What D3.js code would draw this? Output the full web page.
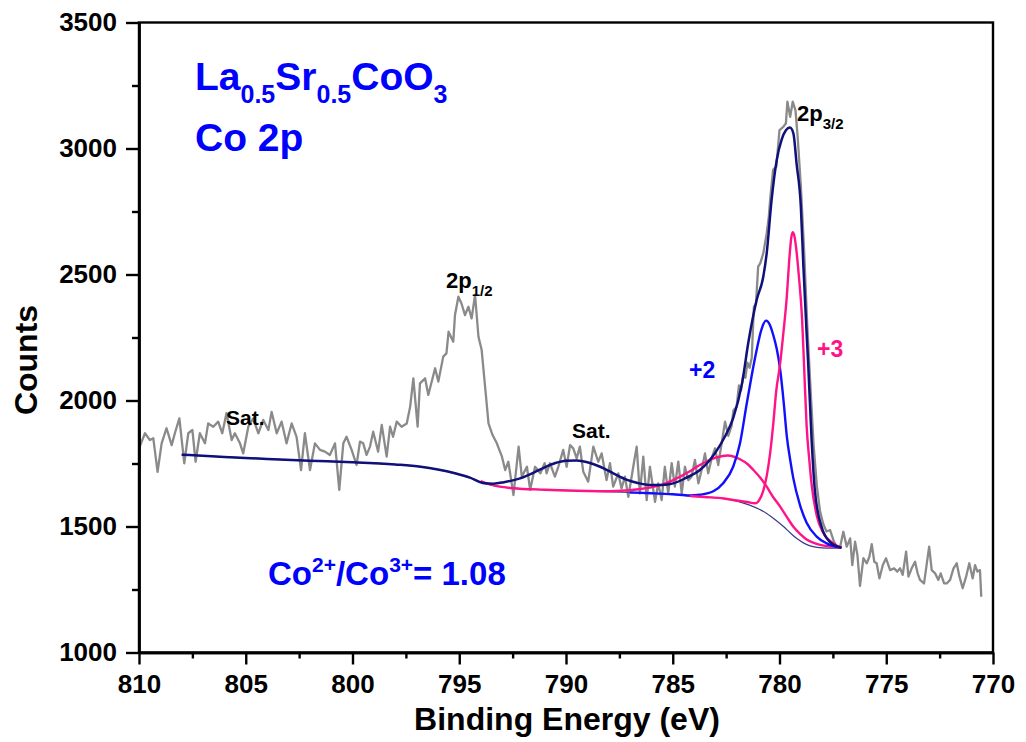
<!DOCTYPE html>
<html><head><meta charset="utf-8">
<script src="https://cdn.jsdelivr.net/npm/d3@7"></script>
<style>body{margin:0;background:#fff}svg{display:block}</style>
</head><body>
<svg id="chart" width="1026" height="742"></svg>
<script>
// ---------- data ----------
const xTickValues = [810, 805, 800, 795, 790, 785, 780, 775, 770];
const xMinorTicks = [807.5, 802.5, 797.5, 792.5, 787.5, 782.5, 777.5, 772.5];
const yTickValues = [1000, 1500, 2000, 2500, 3000, 3500];
const yMinorTicks = [1250, 1750, 2250, 2750, 3250];

// measured spectrum [binding energy (eV), counts]
const rawSpectrum = [
[810.0,1810],[809.72,1870],[809.49,1843],[809.33,1850],[809.13,1717],[808.94,1830],[808.71,1890],[808.47,1823],[808.32,1870],[808.11,1929],
[807.88,1751],[807.69,1870],[807.50,1883],[807.35,1757],[807.15,1870],[806.91,1830],[806.76,1909],[806.52,1896],[806.29,1916],[806.10,1870],
[805.90,1950],[805.66,1843],[805.51,1870],[805.27,1830],[805.12,1790],[804.88,1896],[804.65,1929],[804.41,1870],[804.18,1923],[803.94,1883],
[803.79,1955],[803.55,1870],[803.32,1916],[803.09,1830],[802.85,1909],[802.62,1856],[802.41,1724],[802.23,1870],[801.99,1724],[801.76,1830],
[801.52,1804],[801.29,1797],[801.06,1784],[800.82,1830],[800.62,1645],[800.43,1830],[800.28,1856],[800.04,1804],[799.81,1744],[799.65,1837],
[799.50,1830],[799.34,1784],[799.18,1817],[799.03,1876],[798.80,1797],[798.63,1903],[798.40,1777],[798.24,1896],[798.10,1856],[797.93,1916],
[797.70,1896],[797.46,1909],[797.30,1975],[797.15,2088],[796.95,1896],[796.84,2068],[796.60,2088],[796.45,2022],[796.13,2128],[795.98,2075],
[795.75,2174],[795.60,2187],[795.50,2273],[795.28,2233],[795.20,2339],[795.04,2412],[794.90,2386],[794.73,2339],[794.57,2372],[794.42,2326],
[794.26,2419],[794.10,2253],[793.95,2200],[793.76,2028],[793.63,1909],[793.44,1863],[793.24,1830],[793.00,1777],[792.85,1724],[792.70,1757],
[792.46,1625],[792.22,1817],[792.07,1698],[791.83,1737],[791.68,1645],[791.45,1737],[791.20,1711],[791.00,1751],[790.91,1711],[790.75,1751],
[790.52,1698],[790.36,1737],[790.13,1804],[789.97,1737],[789.81,1823],[789.66,1810],[789.50,1770],[789.35,1817],[789.19,1717],[788.96,1678],
[788.72,1817],[788.49,1757],[788.33,1790],[788.10,1684],[787.94,1751],[787.79,1658],[787.55,1711],[787.40,1651],[787.24,1698],[787.08,1618],
[786.85,1737],[786.69,1817],[786.54,1631],[786.38,1777],[786.22,1605],[786.07,1737],[785.83,1598],[785.68,1671],[785.52,1605],[785.37,1737],
[785.21,1631],[785.05,1751],[784.90,1658],[784.74,1757],[784.58,1631],[784.43,1737],[784.27,1684],[784.12,1698],[783.96,1764],[783.80,1671],
[783.65,1724],[783.49,1790],[783.34,1711],[783.18,1770],[783.02,1810],[782.87,1744],[782.71,1830],[782.55,1916],[782.40,1860],[782.24,1900],
[782.16,1960],[782.01,1975],[781.90,2060],[781.80,2040],[781.70,2100],[781.60,2090],[781.50,2150],[781.40,2130],[781.30,2170],[781.20,2372],
[781.10,2386],[781.00,2531],[780.90,2545],[780.76,2584],[780.60,2663],[780.50,2730],[780.44,2795],[780.30,2915],[780.15,2928],[780.00,3073],
[779.82,3086],[779.70,3100],[779.63,3186],[779.50,3126],[779.38,3186],[779.25,3150],[779.15,3047],[779.00,2850],[778.85,2600],[778.70,2300],
[778.55,2050],[778.40,1820],[778.25,1660],[778.10,1560],[777.95,1510],[777.80,1480],[777.63,1486],[777.45,1440],[777.32,1420],[777.16,1420],
[777.01,1479],[776.85,1420],[776.69,1453],[776.59,1347],[776.46,1440],[776.35,1387],[776.23,1264],[776.07,1374],[775.91,1354],[775.79,1380],
[775.68,1430],[775.56,1360],[775.45,1354],[775.32,1294],[775.16,1347],[775.01,1374],[774.82,1327],[774.63,1334],[774.48,1321],[774.35,1334],
[774.23,1308],[774.07,1400],[773.96,1301],[773.81,1334],[773.65,1360],[773.53,1314],[773.42,1288],[773.23,1274],[773.10,1354],[772.99,1420],
[772.87,1327],[772.71,1314],[772.56,1288],[772.45,1314],[772.29,1274],[772.17,1274],[772.01,1288],[771.85,1334],[771.70,1354],[771.57,1301],
[771.42,1255],[771.26,1301],[771.11,1354],[770.95,1294],[770.84,1347],[770.73,1321],[770.61,1327],[770.55,1221]
];

// fitted curves [eV, counts]
const backgroundFit = [
[808.0,1785],[806,1776],[804,1768],[802,1761],[800,1755],[798,1746],[796.8,1737],[796,1726],[795.2,1711],[794.5,1694],
[793.9,1673],[793.3,1661],[792.5,1652],[791,1646],[789,1640],[787,1635],[785,1628],[784.2,1621],[783.5,1617],[782.6,1611],
[782,1601],[781.4,1585],[780.6,1552],[780.2,1527],[779.8,1499],[779.5,1475],[779.2,1453],[778.9,1436],[778.6,1424],[778.3,1418],
[778.0,1415],[777.5,1414],[777.1,1415]
];
const co3SatFit = [
[794.0,1680],[793.3,1661],[792.5,1652],[791,1646],[789,1641],[788,1640],[787.2,1643],[786.6,1648],[786.07,1654],[785.5,1666],
[784.98,1684],[784.3,1714],[783.73,1744],[783.3,1763],[782.95,1774],[782.43,1782],[781.85,1767],[781.5,1748],[781.22,1724],[780.9,1693],
[780.6,1658],[780.3,1617],[779.97,1579],[779.65,1537],[779.35,1499],[779.0,1468],[778.73,1448],[778.4,1435],[778.1,1427],[777.5,1420],
[777.1,1416]
];
const co3Fit = [
[784.2,1621],[783.5,1617],[782.6,1611],[782.0,1603],[781.5,1597],[781.14,1592],[780.95,1605],[780.75,1645],[780.6,1700],[780.44,1790],
[780.3,1900],[780.15,2040],[779.98,2140],[779.82,2267],[779.66,2410],[779.55,2550],[779.45,2645],[779.38,2668],[779.3,2652],[779.2,2590],
[779.1,2500],[778.94,2320],[778.85,2140],[778.73,1900],[778.6,1760],[778.5,1670],[778.26,1545],[777.95,1475],[777.48,1433],[777.1,1416]
];
const co2Fit = [
[787.0,1635],[786,1632],[785,1628],[784.2,1623],[783.73,1626],[783.1,1640],[782.64,1672],[782.17,1737],[781.85,1830],[781.54,1985],
[781.3,2100],[781.07,2200],[780.85,2280],[780.63,2317],[780.45,2300],[780.3,2262],[780.13,2205],[779.98,2130],[779.8,1990],[779.66,1860],
[779.5,1765],[779.35,1690],[779.04,1585],[778.73,1515],[778.26,1460],[777.79,1433],[777.1,1416]
];
const envelopeFit = [
[808.0,1785],[806,1776],[804,1768],[802,1761],[800,1755],[798,1746],[796.8,1737],[796,1726],[795.2,1711],[794.5,1694],
[793.9,1673],[793.4,1670],[792.9,1676],[792.15,1691],[791.53,1713],[791.0,1735],[790.5,1752],[790.0,1761],[789.5,1762],[789.0,1755],
[788.4,1737],[787.8,1712],[787.17,1686],[786.6,1672],[786.07,1665],[785.5,1665],[784.98,1671],[784.4,1692],[783.73,1724],[783.3,1760],
[782.95,1800],[782.55,1858],[782.17,1930],[781.75,2070],[781.46,2230],[781.07,2399],[780.76,2491],[780.6,2584],[780.37,2796],[780.13,2954],
[779.9,3035],[779.7,3072],[779.51,3083],[779.35,3060],[779.2,2940],[779.0,2769],[778.88,2531],[778.73,2267],[778.65,2134],[778.5,1850],
[778.34,1640],[778.03,1499],[777.64,1439],[777.1,1416]
];

// ---------- drawing ----------
const FONT = "'Liberation Sans', Arial, Helvetica, sans-serif";
const svg = d3.select("#chart");
const M = { left: 139, right: 993, top: 22.5, bottom: 652.5 };
const x = d3.scaleLinear().domain([810, 770]).range([M.left, M.right]);
const y = d3.scaleLinear().domain([1000, 3500]).range([M.bottom, M.top]);

const line = d3.line().x(d => x(d[0])).y(d => y(d[1]));
const smooth = d3.line().x(d => x(d[0])).y(d => y(d[1])).curve(d3.curveMonotoneX);

const plot = svg.append("g");
plot.append("path").datum(rawSpectrum).attr("d", line)
  .attr("fill", "none").attr("stroke", "#8a8a8a").attr("stroke-width", 2.3).attr("stroke-linejoin", "round");
plot.append("path").datum(backgroundFit).attr("d", smooth)
  .attr("fill", "none").attr("stroke", "#3a3a8c").attr("stroke-width", 1.2);
plot.append("path").datum(co3SatFit).attr("d", smooth)
  .attr("fill", "none").attr("stroke", "#ff1487").attr("stroke-width", 2.4);
plot.append("path").datum(co2Fit).attr("d", smooth)
  .attr("fill", "none").attr("stroke", "#1010ff").attr("stroke-width", 2.4);
plot.append("path").datum(co3Fit).attr("d", smooth)
  .attr("fill", "none").attr("stroke", "#ff1487").attr("stroke-width", 2.4);
plot.append("path").datum(envelopeFit).attr("d", smooth)
  .attr("fill", "none").attr("stroke", "#10107a").attr("stroke-width", 2.5);

// frame
svg.append("rect").attr("x", M.left).attr("y", M.top).attr("width", M.right - M.left).attr("height", M.bottom - M.top)
  .attr("fill", "none").attr("stroke", "#000").attr("stroke-width", 2.4);

// axes
const xAxis = svg.append("g").attr("transform", `translate(0,${M.bottom})`)
  .call(d3.axisBottom(x).tickValues(xTickValues).tickFormat(d3.format("d")).tickSize(12).tickPadding(10).tickSizeOuter(0));
const xMinor = svg.append("g").attr("transform", `translate(0,${M.bottom})`)
  .call(d3.axisBottom(x).tickValues(xMinorTicks).tickFormat(() => "").tickSize(6).tickSizeOuter(0));
const yAxis = svg.append("g").attr("transform", `translate(${M.left},0)`)
  .call(d3.axisLeft(y).tickValues(yTickValues).tickFormat(d3.format("d")).tickSize(13).tickPadding(9).tickSizeOuter(0));
const yMinor = svg.append("g").attr("transform", `translate(${M.left},0)`)
  .call(d3.axisLeft(y).tickValues(yMinorTicks).tickFormat(() => "").tickSize(7).tickSizeOuter(0));
[xAxis, xMinor, yAxis, yMinor].forEach(g => {
  g.select(".domain").attr("stroke", "#000").attr("stroke-width", 2.4);
  g.selectAll(".tick line").attr("stroke", "#000").attr("stroke-width", 2.4);
  g.selectAll("text").attr("font-family", FONT).attr("font-weight", "bold")
    .attr("font-size", 26).attr("fill", "#000");
});

// axis titles
svg.append("text").attr("x", (M.left + M.right) / 2 + 1).attr("y", 730).attr("text-anchor", "middle")
  .attr("font-family", FONT).attr("font-weight", "bold").attr("font-size", 32).text("Binding Energy (eV)");
svg.append("text").attr("transform", "translate(37,360) rotate(-90)").attr("text-anchor", "middle")
  .attr("font-family", FONT).attr("font-weight", "bold").attr("font-size", 32).text("Counts");

// annotations
function rich(xp, yp, parts, color, size) {
  const t = svg.append("text").attr("x", xp).attr("y", yp).attr("font-family", FONT)
    .attr("font-weight", "bold").attr("fill", color).attr("font-size", size);
  parts.forEach(p => {
    const s = t.append("tspan").text(p.t);
    if (p.s) s.attr("font-size", p.s);
    if (p.dy) s.attr("dy", p.dy);
  });
  return t;
}
rich(195, 90, [{t:"La"},{t:"0.5", s:25, dy:13},{t:"Sr", dy:-13},{t:"0.5", s:25, dy:13},{t:"CoO", dy:-13},{t:"3", s:25, dy:13}], "#0000ff", 39);
rich(195, 151, [{t:"Co 2p"}], "#0000ff", 39);
rich(268, 585, [{t:"Co"},{t:"2+", s:21, dy:-13},{t:"/Co", dy:13},{t:"3+", s:21, dy:-13},{t:"= 1.08", dy:13}], "#0000ff", 33);
rich(446, 288, [{t:"2p"},{t:"1/2", s:15, dy:8}], "#000", 22);
rich(797, 121, [{t:"2p"},{t:"3/2", s:15, dy:8}], "#000", 22);
rich(226, 425, [{t:"Sat."}], "#000", 21);
rich(572, 438, [{t:"Sat."}], "#000", 21);
rich(689, 378, [{t:"+2"}], "#0000ff", 23);
rich(817, 357, [{t:"+3"}], "#ff1487", 23);
</script>
</body></html>
